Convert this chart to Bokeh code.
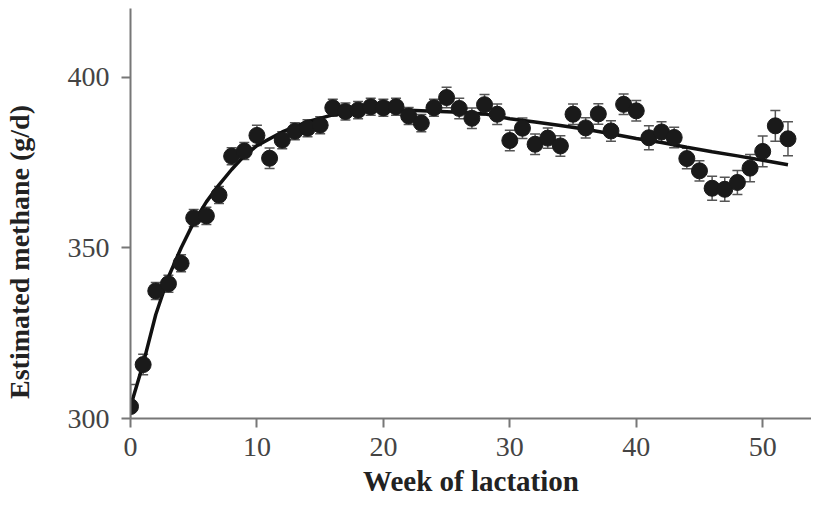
from bokeh.plotting import figure
from bokeh.models import Range1d, FixedTicker, Whisker, ColumnDataSource, TeeHead, LinearAxis
from bokeh.embed import file_html
from bokeh.resources import INLINE

weeks = list(range(53))
methane = [303.5, 315.8, 337.4, 339.5, 345.5, 358.8, 359.4, 365.5, 376.9, 378.4,
           383.0, 376.3, 381.6, 384.2, 385.1, 386.0, 391.1, 390.0, 390.4, 391.4,
           391.1, 391.4, 388.7, 386.6, 391.1, 394.1, 390.9, 388.0, 392.0, 389.2,
           381.5, 385.1, 380.4, 382.2, 379.9, 389.2, 385.2, 389.3, 384.3, 392.1,
           390.2, 382.3, 384.0, 382.4, 376.2, 372.6, 367.5, 367.2, 369.2, 373.4,
           378.3, 385.8, 382.0]
sem = [6.5, 3.0, 2.5, 2.5, 2.5, 2.5, 2.5, 2.5, 2.5, 2.5,
       3.0, 3.0, 2.5, 2.5, 2.5, 2.5, 2.5, 2.5, 2.5, 2.5,
       2.5, 2.5, 2.5, 2.5, 2.5, 3.0, 3.0, 3.0, 3.0, 3.0,
       3.0, 3.0, 3.0, 3.0, 3.0, 3.0, 3.0, 3.0, 3.0, 3.0,
       3.0, 3.5, 3.0, 3.0, 3.0, 3.0, 3.5, 3.5, 3.5, 4.0,
       4.5, 4.5, 5.0]
fit_weeks = [0, 1, 2, 3, 4, 5, 6, 7, 8, 9, 10, 12, 14, 16, 18, 20, 22, 24, 26,
             28, 30, 32, 34, 36, 38, 40, 42, 44, 46, 48, 50, 52]
fit_values = [303.5, 316.0, 330.5, 341.5, 350.0, 357.5, 363.5, 368.5, 373.0, 377.0,
              380.0, 384.0, 387.0, 389.0, 390.2, 390.6, 390.4, 390.1, 389.8,
              389.3, 387.9, 386.9, 385.9, 384.8, 383.5, 382.1, 380.9, 379.5,
              378.2, 377.0, 375.7, 374.4]
x_ticks = [0, 10, 20, 30, 40, 50]
y_ticks = [300, 350, 400]

FONT = "Liberation Serif"
AXIS_COL = "#777777"

p = figure(width=811, height=499, output_backend="svg", toolbar_location=None,
           x_range=Range1d(0, 53.86), y_range=Range1d(300, 420.2),
           min_border_left=128, min_border_right=0, min_border_top=8,
           min_border_bottom=80)
p.outline_line_color = None
p.grid.visible = False
p.background_fill_color = "white"

lower = [m - s for m, s in zip(methane, sem)]
upper = [m + s for m, s in zip(methane, sem)]
src = ColumnDataSource(dict(x=weeks, y=methane, lower=lower, upper=upper))

wh = Whisker(base="x", lower="lower", upper="upper", source=src,
             line_color="#555555", line_width=1.5,
             upper_head=TeeHead(size=10, line_color="#555555", line_width=1.5),
             lower_head=TeeHead(size=10, line_color="#555555", line_width=1.5))
p.add_layout(wh)

p.line(fit_weeks, fit_values, line_width=3.5, line_color="#111111")
p.scatter("x", "y", source=src, size=16, fill_color="#1a1a1a", line_color="#1a1a1a")

for ax in (p.xaxis, p.yaxis):
    ax.axis_line_color = AXIS_COL
    ax.axis_line_width = 2
    ax.major_tick_line_color = AXIS_COL
    ax.major_tick_line_width = 2
    ax.major_tick_out = 9
    ax.major_tick_in = 0
    ax.minor_tick_line_color = None
    ax.major_label_text_font = FONT
    ax.major_label_text_font_size = "28px"
    ax.major_label_text_color = "#444444"

p.yaxis.major_label_standoff = 12
p.xaxis.major_label_standoff = 10
p.xaxis.ticker = FixedTicker(ticks=x_ticks)
p.yaxis.ticker = FixedTicker(ticks=y_ticks)

p.xaxis.axis_label = "Week of lactation"
p.xaxis.axis_label_text_font = FONT
p.xaxis.axis_label_text_font_style = "bold"
p.xaxis.axis_label_text_font_size = "29px"
p.xaxis.axis_label_text_color = "#222222"
p.xaxis.axis_label_standoff = 6

# label-only axis; trailing no-break spaces nudge the rotated title downwards
ylab_axis = LinearAxis(ticker=FixedTicker(ticks=[]),
                       axis_line_color=None, major_tick_line_color=None,
                       minor_tick_line_color=None,
                       axis_label="Estimated methane (g/d)" + "\u00a0" * 11,
                       axis_label_text_font=FONT,
                       axis_label_text_font_style="bold",
                       axis_label_text_font_size="28px",
                       axis_label_text_color="#222222",
                       axis_label_standoff=30)
p.add_layout(ylab_axis, "left")

open("out.html", "w").write(file_html(p, INLINE))
